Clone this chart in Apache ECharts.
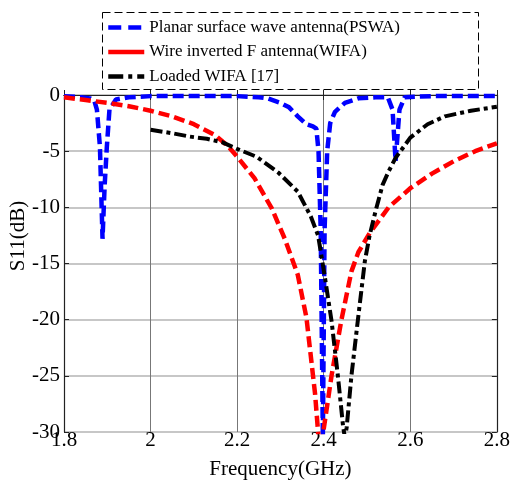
<!DOCTYPE html>
<html>
<head>
<meta charset="utf-8">
<script src="https://cdn.jsdelivr.net/npm/echarts@6/dist/echarts.min.js"></script>
<style>
html,body{margin:0;padding:0;background:#fff;}
#chart{width:513px;height:485px;}
</style>
</head>
<body>
<div id="chart"></div>
<script>
// ---- data ----
var seriesNames = ['Planar surface wave antenna(PSWA)', 'Wire inverted F antenna(WIFA)', 'Loaded WIFA [17]'];
var xTicks = [1.8, 2.0, 2.2, 2.4, 2.6, 2.8];
var yTicks = [0, -5, -10, -15, -20, -25, -30];

var pswaFreq = [1.80, 1.84, 1.86, 1.87, 1.876, 1.883, 1.889, 1.894, 1.899, 1.905, 1.92, 1.95, 2.0, 2.1, 2.2, 2.25, 2.27, 2.30, 2.32, 2.34, 2.36, 2.375, 2.383, 2.388, 2.393, 2.398, 2.402, 2.408, 2.415, 2.426, 2.449, 2.48, 2.52, 2.548, 2.559, 2.566, 2.575, 2.587, 2.65, 2.7, 2.8];
var pswaS11  = [-0.1, -0.2, -0.3, -0.5, -1.3, -4.6, -12.8, -8.0, -4.6, -1.3, -0.4, -0.2, -0.1, -0.1, -0.1, -0.2, -0.3, -0.7, -1.1, -1.9, -2.6, -2.8, -3.0, -5.0, -12.0, -30.5, -12.0, -5.0, -2.5, -1.5, -0.7, -0.3, -0.2, -0.2, -1.3, -5.9, -1.3, -0.2, -0.1, -0.1, -0.1];

var wifaFreq = [1.80, 1.85, 1.90, 1.95, 2.0, 2.05, 2.10, 2.15, 2.18, 2.20, 2.24, 2.28, 2.31, 2.34, 2.36, 2.38, 2.388, 2.393, 2.399, 2.418, 2.441, 2.464, 2.48, 2.506, 2.55, 2.60, 2.65, 2.70, 2.75, 2.80];
var wifaS11  = [-0.2, -0.45, -0.7, -1.0, -1.4, -1.9, -2.6, -3.6, -4.6, -5.5, -7.4, -10.1, -12.8, -16.0, -19.8, -26.6, -30.5, -32.0, -30.0, -25.0, -20.0, -15.7, -14.0, -12.3, -10.0, -8.3, -7.0, -5.9, -5.0, -4.3];

var loadedFreq = [2.0, 2.05, 2.09, 2.13, 2.165, 2.2, 2.245, 2.295, 2.34, 2.37, 2.387, 2.403, 2.418, 2.433, 2.445, 2.449, 2.453, 2.464, 2.479, 2.495, 2.506, 2.52, 2.536, 2.55, 2.566, 2.60, 2.64, 2.68, 2.74, 2.80];
var loadedS11  = [-3.1, -3.4, -3.7, -3.9, -4.2, -4.8, -5.5, -6.9, -8.6, -10.8, -12.5, -16.3, -20.1, -25.1, -29.6, -30.5, -29.6, -25.0, -20.0, -14.8, -12.5, -10.3, -8.0, -6.8, -5.6, -3.8, -2.6, -1.9, -1.4, -1.05];

function pairs(xs, ys) { return xs.map(function (x, i) { return [x, ys[i]]; }); }

var FONT = '"Liberation Serif", "Times New Roman", serif';
var chart = echarts.init(document.getElementById('chart'), null, {renderer: 'canvas'});

var axisCommon = {
  axisLine: {show: true, lineStyle: {color: '#222', width: 1.2}},
  axisTick: {show: true, inside: true, length: 5, lineStyle: {color: '#222', width: 1}}
};
var hidden = {opacity: 0, color: 'rgba(0,0,0,0)', borderWidth: 0};

chart.setOption({
  animation: false,
  backgroundColor: '#fff',
  grid: {left: 64, right: 13, top: 95, bottom: 50, containLabel: false},
  legend: {
    orient: 'vertical',
    left: 106,
    top: 19,
    itemWidth: 36,
    itemHeight: 12,
    itemGap: 7.5,
    padding: 0,
    textStyle: {fontFamily: FONT, fontSize: 17, color: '#000'},
    data: [
      {name: seriesNames[0], itemStyle: hidden, lineStyle: {type: [13, 7], width: 4.5, color: '#0000ff'}},
      {name: seriesNames[1], itemStyle: hidden, lineStyle: {type: 'solid', width: 4.5, color: '#ff0000'}},
      {name: seriesNames[2], itemStyle: hidden, lineStyle: {type: [15, 5, 4, 5], width: 4.5, color: '#000000'}}
    ]
  },
  graphic: [
    {type: 'rect', left: 100, top: 10, shape: {width: 376, height: 77},
     style: {fill: 'none', stroke: '#000', lineWidth: 1, lineDash: [8, 4]}, z: 0},
    {type: 'text', x: 8, y: 236, rotation: Math.PI / 2,
     style: {text: 'S11(dB)', font: '21px ' + FONT, fill: '#000', textAlign: 'center', textVerticalAlign: 'top'}}
  ],
  xAxis: [
    Object.assign({
      type: 'value', min: xTicks[0], max: xTicks[xTicks.length - 1], interval: 0.2,
      name: 'Frequency(GHz)', nameLocation: 'middle', nameGap: 27,
      nameTextStyle: {fontFamily: FONT, fontSize: 21, color: '#000'},
      axisLabel: {fontFamily: FONT, fontSize: 21, color: '#000', margin: -2,
        formatter: function (v) { return String(Math.round(v * 10) / 10); }},
      splitLine: {show: true, lineStyle: {color: '#777', width: 1}}
    }, axisCommon),
    Object.assign({
      type: 'value', position: 'top', min: xTicks[0], max: xTicks[xTicks.length - 1], interval: 0.2,
      axisLabel: {show: false}, splitLine: {show: false}
    }, axisCommon)
  ],
  yAxis: [
    Object.assign({
      type: 'value', min: yTicks[yTicks.length - 1], max: yTicks[0], interval: 5,
      axisLabel: {fontFamily: FONT, fontSize: 21, color: '#000', margin: 4},
      splitLine: {show: true, lineStyle: {color: '#b4b4b4', width: 1.5}}
    }, axisCommon),
    Object.assign({
      type: 'value', position: 'right', min: yTicks[yTicks.length - 1], max: yTicks[0], interval: 5,
      axisLabel: {show: false}, splitLine: {show: false}
    }, axisCommon)
  ],
  series: [
    {name: seriesNames[0], type: 'line', data: pairs(pswaFreq, pswaS11), symbol: 'none', showSymbol: false,
     clip: true, color: '#0000ff', lineStyle: {color: '#0000ff', width: 4.5, type: [11, 5], cap: 'butt'}},
    {name: seriesNames[1], type: 'line', data: pairs(wifaFreq, wifaS11), symbol: 'none', showSymbol: false,
     clip: true, color: '#ff0000', lineStyle: {color: '#ff0000', width: 4.5, type: [11, 5], cap: 'butt'}},
    {name: seriesNames[2], type: 'line', data: pairs(loadedFreq, loadedS11), symbol: 'none', showSymbol: false,
     clip: true, color: '#000000', lineStyle: {color: '#000000', width: 4, type: [12, 4, 4, 4], cap: 'butt'}}
  ]
});
</script>
</body>
</html>
